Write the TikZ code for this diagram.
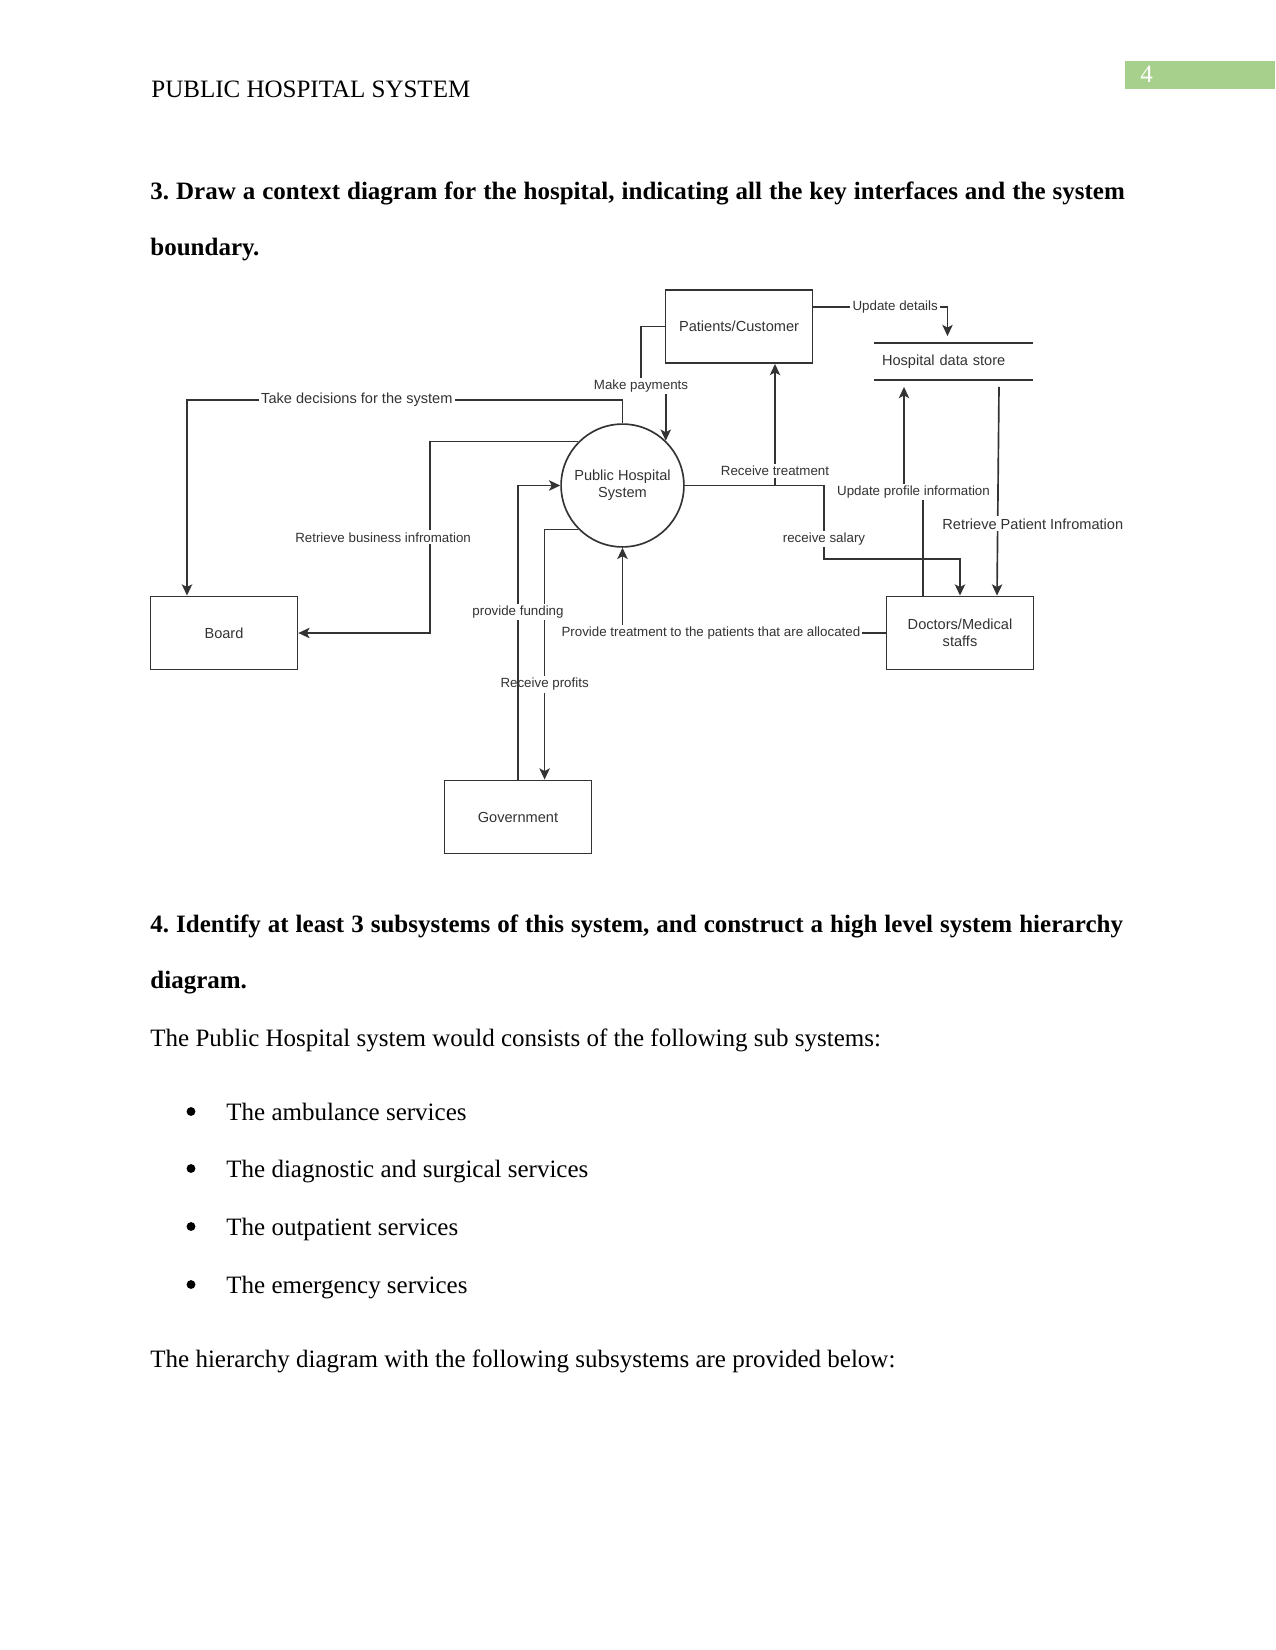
\documentclass[tikz,border=0pt]{standalone}
\usepackage{fontspec}
\setmainfont{Liberation Serif}
\newfontfamily\diagfont{Liberation Sans}
\newfontfamily\headfont[WordSpace=1.12]{Liberation Serif Bold}
\usetikzlibrary{arrows.meta,calc}
\definecolor{pagegreen}{HTML}{A8D08D}
\definecolor{inkgray}{HTML}{333333}
\newcommand{\lblbig}{\diagfont\fontsize{7bp}{8.2bp}\selectfont}
\frenchspacing

\begin{document}
\begin{tikzpicture}[x=0.16933mm, y=-0.16933mm,
    entity/.style={draw=inkgray, line width=0.8pt, minimum width=24.9mm, minimum height=12.4mm,
        align=center, text=inkgray, font=\diagfont\fontsize{7bp}{8.2bp}\selectfont},
    process/.style={circle, draw=inkgray, line width=0.8pt, minimum size=20.8mm, inner sep=0pt,
        align=center, text=inkgray, font=\diagfont\fontsize{7bp}{8bp}\selectfont},
    datastore/.style={minimum width=26.9mm, minimum height=8.47mm, inner xsep=1.35mm,
        text width=24.2mm, align=left, text=inkgray, font=\diagfont\fontsize{7bp}{8bp}\selectfont},
    flow/.style={draw=inkgray, line width=0.8pt, -{Stealth[length=5.4pt, width=5pt, inset=1.3pt]}},
    lbl/.style={fill=white, inner sep=1pt, text=inkgray, font=\diagfont\fontsize{6.4bp}{7.5bp}\selectfont},
    bodytext/.style={anchor=base west, inner sep=0pt, font=\fontsize{12bp}{14bp}\selectfont},
    head/.style={bodytext, font=\headfont\fontsize{12bp}{14bp}\selectfont},
    bulletdot/.style={circle, fill=black, inner sep=0pt, minimum size=1.5mm},
]

% Page
\fill[white] (0,0) rectangle (1275,1650);
\useasboundingbox (0,0) rectangle (1275,1650);

% Header and page number
\node[bodytext] (hdr) at (151,97) {PUBLIC HOSPITAL SYSTEM};
\fill[pagegreen] (1125,61) rectangle (1275,89);
\node[bodytext, text=white] (pgno) at (1140,82) {4};

% Question 3
\node[head] (q3a) at (150,199) {3. Draw a context diagram for the hospital, indicating all the key interfaces and the system};
\node[head] (q3b) at (150,255) {boundary.};

% Entities
\node[process] (phs) at (622.5,485.5) {Public Hospital\\System};
\node[entity] (patients) at (739,326.5) {Patients/Customer};
\node[entity] (board) at (224,633) {Board};
\node[entity] (doctors) at (960,633) {Doctors/Medical\\staffs};
\node[entity] (govt) at (518,817) {Government};
\node[datastore] (store) at (953.5,361.5) {Hospital data store};
\draw[inkgray, line width=0.8pt] ($(store.west)+(0,-18.5)$) -- ($(store.east)+(0,-18.5)$);
\draw[inkgray, line width=0.8pt] ($(store.west)+(0,18.5)$) -- ($(store.east)+(0,18.5)$);

% Board flows
\draw[flow] (phs.north) |- node[lbl, font=\lblbig, pos=0.805] {Take decisions for the system} (187,400)
    -- ($(board.north)+(-37,0)$);
\draw[flow] (phs.135) -| node[lbl, pos=0.75, xshift=-22.6pt] {Retrieve business infromation} (430,633)
    -- (board.east);

% Patient flows
\draw[flow] (patients.west) -| (641,386) node[lbl] (mkpay) {Make payments} -| (phs.46);
\draw[flow] (phs.east) -| node[lbl, pos=0.56] {Receive treatment} ($(patients.south)+(36,0)$);
\draw[flow] ($(patients.north east)+(0,18)$) -| node[lbl, pos=0.305] {Update details} ($(store.north)+(-6,0)$);

% Doctor flows
\draw[flow] (phs.east) -| node[lbl, pos=0.865] {receive salary} (824,559) -| (doctors.north);
\draw[flow] ($(doctors.north)+(-37,0)$) |- node[lbl, pos=0.75] {Update profile information} (904,492)
    -- ($(store.south)+(-49.5,0)$);
\draw[flow] ($(store.south)+(45.5,0)$) -- node[lbl, font=\lblbig, pos=0.656, xshift=16.9pt] {Retrieve Patient Infromation}
    ($(doctors.north)+(37,0)$);
\draw[flow] (doctors.west) -| node[lbl, pos=0.332] {Provide treatment to the patients that are allocated} (phs.south);

% Government flows
\draw[flow] (phs.225) -| node[lbl, pos=0.81] {Receive profits} ($(govt.north)+(26.6,0)$);
\draw[flow] (govt.north) |- node[lbl, pos=0.285] {provide funding} (phs.west);

% Question 4
\node[head] (q4a) at (150,932) {4. Identify at least 3 subsystems of this system, and construct a high level system hierarchy};
\node[head] (q4b) at (150,988) {diagram.};
\node[bodytext] (intro) at (150,1046) {The Public Hospital system would consists of the following sub systems:};

\foreach \i/\y/\svc in {1/1120/The ambulance services, 2/1177/The diagnostic and surgical services,
    3/1235/The outpatient services, 4/1293/The emergency services} {
    \node[bulletdot] (dot\i) at (191,\y-8.5) {};
    \node[bodytext] (svc\i) at (226,\y) {\svc};
}

\node[bodytext] (outro) at (150,1367) {The hierarchy diagram with the following subsystems are provided below:};

\end{tikzpicture}
\end{document}
